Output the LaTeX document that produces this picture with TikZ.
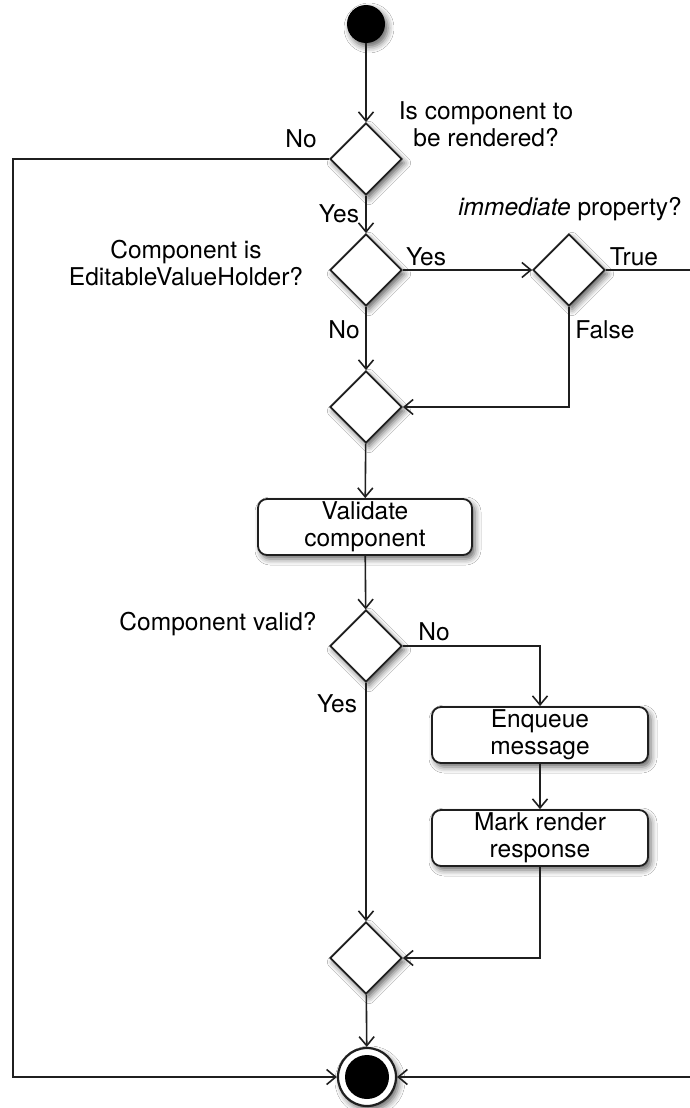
\documentclass[tikz,border=0pt]{standalone}
\usepackage{fontspec}
\setmainfont{TeX Gyre Heros}
\usetikzlibrary{arrows.meta,shapes.geometric,shadows.blur}

\begin{document}
\begin{tikzpicture}[x=1pt,y=-1pt,
  softshadow/.style={blur shadow={shadow xshift=3pt, shadow yshift=-4pt,
      shadow blur radius=6pt, shadow opacity=60}},
  decision/.style={diamond, draw=black!88, line width=1.8pt, fill=white,
      minimum width=72pt, minimum height=72pt, inner sep=0pt, softshadow},
  action/.style={rectangle, rounded corners=9pt, draw=black!88, fill=white,
      line width=1.8pt, minimum height=56pt, align=center,
      font=\fontsize{24.5}{27}\selectfont, inner sep=0pt, softshadow},
  lbl/.style={font=\fontsize{24.5}{27}\selectfont, inner sep=0pt, text=black},
  flow/.style={draw=black!88, line width=1.6pt,
      -{Straight Barb[length=9pt,width=15pt,line width=1.6pt]}}]

\useasboundingbox (0,0) rectangle (689,1108);
\fill[white] (0,0) rectangle (689,1108);

% initial and final states
\node[circle, fill=black, minimum size=38pt, inner sep=0pt, softshadow] (start) at (366,24) {};
\node[circle, draw=black!88, line width=2.2pt, fill=white, minimum size=58pt, inner sep=0pt, softshadow,
      path picture={\fill[black] (path picture bounding box.center) circle[radius=22pt];}]
      (final) at (367,1077) {};

% decisions and merges
\node[decision] (d1) at (366,159) {};
\node[decision] (d2) at (366,270) {};
\node[decision] (d3) at (569,270) {};
\node[decision] (d4) at (366,407) {};
\node[decision] (d5) at (366,646) {};
\node[decision] (d6) at (366,958) {};

% actions
\node[action, minimum width=214pt] (validate) at (365,527) {Validate\\component};
\node[action, minimum width=216pt] (enqueue) at (540,735) {Enqueue\\message};
\node[action, minimum width=216pt] (mark) at (540,838) {Mark render\\response};

% bends that run round the outside
\coordinate (leftturn) at (13,1077);
\coordinate (rightturn) at (692,1077);

% connectors
\draw[flow] (start) -- (d1);
\draw[flow] (d1.west) -| (leftturn) -- (final.west);
\draw[flow] (d1) -- (d2);
\draw[flow] (d2) -- (d3);
\draw[flow] (d3.east) -| (rightturn) -- (final.east);
\draw[flow] (d2) -- (d4);
\draw[flow] (d3.south) |- (d4.east);
\draw[flow] (d4) -- (validate);
\draw[flow] (validate) -- (d5);
\draw[flow] (d5.east) -| (enqueue.north);
\draw[flow] (d5) -- (d6);
\draw[flow] (enqueue) -- (mark);
\draw[flow] (mark.south) |- (d6.east);
\draw[flow] (d6) -- (final);

% guard and question labels
\node[lbl, anchor=base] (noA) at (301,147) {No};
\node[lbl, anchor=north, align=center] (q1) at (486,101) {Is component to\\be rendered?};
\node[lbl, anchor=base] (yesA) at (339,222) {Yes};
\node[lbl, anchor=base] (q3) at (570,215) {\textit{immediate} property?};
\node[lbl, anchor=north, align=center] (q2) at (186,240) {Component is\\EditableValueHolder?};
\node[lbl, anchor=base] (yesB) at (426,265) {Yes};
\node[lbl, anchor=base] (trueA) at (634,265) {True};
\node[lbl, anchor=base] (noB) at (344,338) {No};
\node[lbl, anchor=base] (falseA) at (605,338) {False};
\node[lbl, anchor=base] (q4) at (218,630) {Component valid?};
\node[lbl, anchor=base] (noC) at (434,640) {No};
\node[lbl, anchor=base] (yesC) at (337,712) {Yes};

\end{tikzpicture}
\end{document}
